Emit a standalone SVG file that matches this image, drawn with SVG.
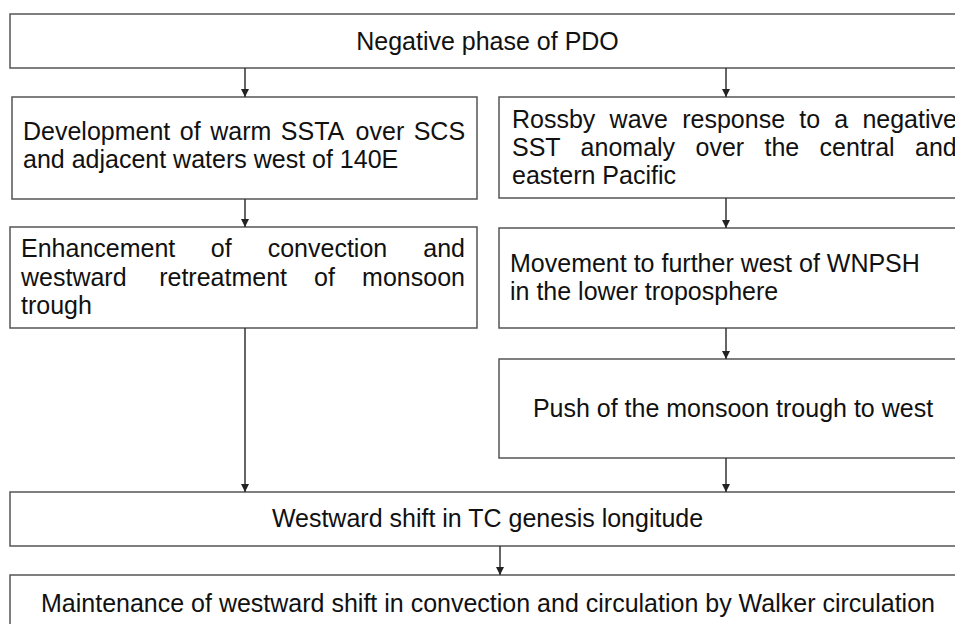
<svg xmlns="http://www.w3.org/2000/svg" width="955" height="624" viewBox="0 0 955 624">
<style>
.box{fill:#fff;stroke:#555;stroke-width:1.5}
.t{font-family:"Liberation Sans",Arial,sans-serif;font-size:25px;fill:#111}
.c{text-anchor:middle}
.conn line{stroke:#333;stroke-width:1.5;marker-end:url(#ah)}
</style>
<defs>
<marker id="ah" viewBox="0 0 8 10" refX="8" refY="5" markerWidth="8" markerHeight="10" markerUnits="userSpaceOnUse" orient="auto">
<path d="M0,1 L8,5 L0,9 Z" fill="#222"/>
</marker>
</defs>
<rect width="955" height="624" fill="#fff"/>
<g id="n-top">
<rect class="box" x="10" y="14" width="956" height="54"/>
<text class="t c" x="487.5" y="50">Negative phase of PDO</text>
</g>
<g id="n-ssta">
<rect class="box" x="12" y="97" width="465" height="102"/>
<text class="t" y="140"><tspan x="23">Development</tspan><tspan x="179.8">of</tspan><tspan x="210.2">warm</tspan><tspan x="280.8">SSTA</tspan><tspan x="355.6">over</tspan><tspan x="413.7">SCS</tspan></text>
<text class="t" x="23" y="168">and adjacent waters west of 140E</text>
</g>
<g id="n-rossby">
<rect class="box" x="499" y="97" width="467" height="101"/>
<text class="t" y="128"><tspan x="512">Rossby</tspan><tspan x="609.6">wave</tspan><tspan x="682.2">response</tspan><tspan x="799.2">to</tspan><tspan x="834.3">a</tspan><tspan x="862.4">negative</tspan></text>
<text class="t" y="156"><tspan x="512">SST</tspan><tspan x="580.6">anomaly</tspan><tspan x="695.5">over</tspan><tspan x="764.5">the</tspan><tspan x="819.6">central</tspan><tspan x="915">and</tspan></text>
<text class="t" x="512" y="184">eastern Pacific</text>
</g>
<g id="n-enh">
<rect class="box" x="10" y="227" width="467" height="101"/>
<text class="t" y="257"><tspan x="21">Enhancement</tspan><tspan x="210.8">of</tspan><tspan x="267.7">convection</tspan><tspan x="423.3">and</tspan></text>
<text class="t" y="286"><tspan x="21">westward</tspan><tspan x="159.2">retreatment</tspan><tspan x="314.1">of</tspan><tspan x="362.1">monsoon</tspan></text>
<text class="t" x="21" y="314">trough</text>
</g>
<g id="n-move">
<rect class="box" x="499" y="228" width="467" height="100"/>
<text class="t" x="510" y="272">Movement to further west of WNPSH</text>
<text class="t" x="510" y="300">in the lower troposphere</text>
</g>
<g id="n-push">
<rect class="box" x="499" y="359" width="467" height="99"/>
<text class="t c" x="733" y="417">Push of the monsoon trough to west</text>
</g>
<g id="n-west">
<rect class="box" x="10" y="492" width="956" height="54"/>
<text class="t c" x="487.5" y="527">Westward shift in TC genesis longitude</text>
</g>
<g id="n-maint">
<rect class="box" x="10" y="575" width="956" height="70"/>
<text class="t c" x="488" y="612">Maintenance of westward shift in convection and circulation by Walker circulation</text>
</g>
<g id="connectors" class="conn">
<line x1="245" y1="68" x2="245" y2="97"/>
<line x1="726" y1="68" x2="726" y2="97"/>
<line x1="245" y1="199" x2="245" y2="227"/>
<line x1="726" y1="198" x2="726" y2="228"/>
<line x1="726" y1="328" x2="726" y2="359"/>
<line x1="245" y1="328" x2="245" y2="492"/>
<line x1="726" y1="458" x2="726" y2="492"/>
<line x1="500" y1="546" x2="500" y2="575"/>
</g>
</svg>
